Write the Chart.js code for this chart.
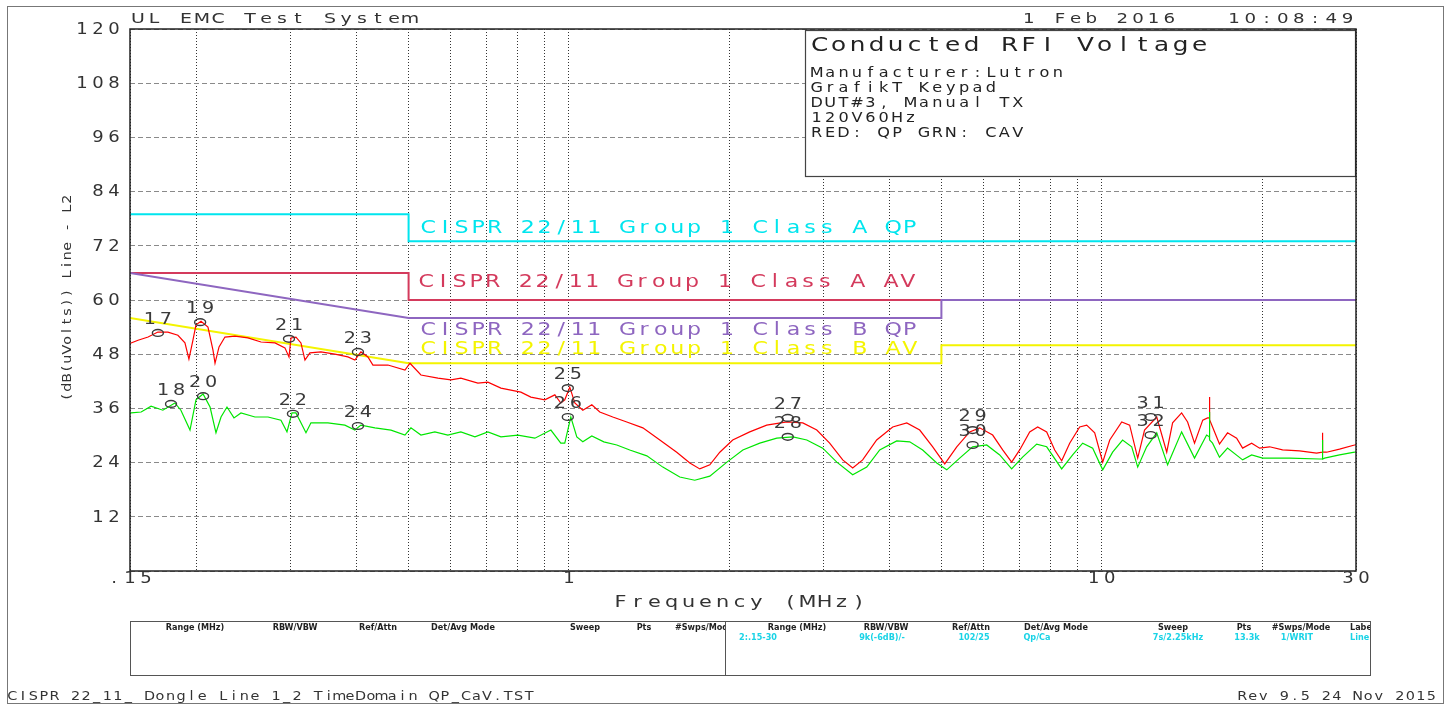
<!DOCTYPE html>
<html>
<head>
<meta charset="utf-8">
<script src="https://cdn.jsdelivr.net/npm/chart.js@4.4.1/dist/chart.umd.min.js"></script>
<style>
html,body{margin:0;padding:0;background:#fff;}
canvas{display:block;}
</style>
</head>
<body>
<canvas id="c" width="1450" height="707" style="width:1450px;height:707px"></canvas>
<script>
// ---------------- data ----------------
const xTickValues = [0.15,0.2,0.3,0.4,0.5,0.6,0.7,0.8,0.9,1,2,3,4,5,6,7,8,9,10,20,30];
const xTickLabels = [{v:0.15,t:".15"},{v:1,t:"1"},{v:10,t:"10"},{v:30,t:"30"}];
const yTickValues = [120,108,96,84,72,60,48,36,24,12];

const redFreq = [0.15,0.1507,0.1553,0.1622,0.1692,0.1767,0.1845,0.1902,0.1935,0.1969,
0.1995,0.2039,0.2101,0.2147,0.2166,0.2204,0.2261,0.2361,0.2497,0.2642,
0.2807,0.2930,0.2982,0.3008,0.3073,0.3140,0.3195,0.3264,0.3423,0.3636,
0.3846,0.3964,0.4069,0.4194,0.4286,0.4573,0.4922,0.5030,0.5274,0.5676,
0.6004,0.6267,0.6745,0.7044,0.7452,0.8122,0.8480,0.9008,0.9407,0.9652,
0.9820,1.0035,1.0255,1.0616,1.1037,1.1424,1.2084,1.2838,1.3760,1.4808,
1.593,1.686,1.760,1.838,1.919,2.029,2.184,2.350,2.564,2.747,
2.918,3.085,3.264,3.408,3.558,3.780,4.051,4.305,4.553,4.816,
5.073,5.343,5.650,5.899,6.240,6.516,6.774,7.013,7.323,7.580,
7.881,8.159,8.409,8.705,9.089,9.368,9.698,10.04,10.35,10.90,
11.28,11.68,12.03,12.68,13.24,13.58,14.12,14.49,14.93,15.47,
15.80,15.92,15.93,15.94,16.14,16.63,17.22,17.91,18.38,19.11,
19.78,20.65,21.84,23.51,25.30,25.95,25.96,25.97,26.42,27.94,
29.81,30];
const redLevel = [50.3,50.5,51.1,51.8,52.9,52.9,52.2,50.5,46.9,51.1,
54.5,55.3,54.0,48.9,46.0,49.6,51.8,52.0,51.6,50.7,
50.5,49.4,47.4,51.6,51.8,50.5,46.7,48.3,48.5,48.0,
47.4,46.7,48.5,47.4,45.6,45.6,44.5,46.0,43.4,42.7,
42.3,42.7,41.6,41.8,40.5,39.6,38.5,37.9,39.0,37.2,
37.9,40.7,37.2,35.6,36.8,35.2,34.1,33.0,31.7,29.0,
26.3,23.9,22.6,23.5,26.3,29.0,30.8,32.3,33.0,32.8,
31.2,28.3,24.6,22.8,24.6,29.0,31.9,32.8,31.2,27.5,
23.7,27.5,30.8,31.7,30.1,26.8,24.1,26.8,30.8,31.9,
30.8,26.8,24.4,28.3,31.9,32.3,30.6,24.1,29.0,33.0,
32.3,25.0,31.2,34.1,26.3,32.8,35.0,33.0,28.3,33.4,
33.9,33.9,38.5,33.5,31.9,28.1,30.6,29.4,27.2,28.3,
27.2,27.5,26.8,26.6,26.1,26.3,30.6,26.3,26.3,27.0,
27.9,28.0];

const greenFreq = [0.15,0.1507,0.1574,0.1643,0.1729,0.1821,0.1869,0.1944,0.1995,0.2057,
0.2120,0.2175,0.2223,0.2281,0.2351,0.2423,0.2574,0.2723,0.2880,0.2956,
0.3021,0.3073,0.3140,0.3209,0.3279,0.3528,0.3796,0.3964,0.4069,0.4323,
0.4634,0.4922,0.5051,0.5274,0.5602,0.5925,0.6267,0.6660,0.7044,0.7452,
0.8019,0.8630,0.9248,0.9652,0.9820,1.0080,1.0344,1.0616,1.1037,1.1624,
1.2296,1.3005,1.400,1.500,1.614,1.722,1.838,1.979,2.120,2.281,
2.455,2.631,2.795,2.994,3.182,3.408,3.621,3.830,4.122,4.360,
4.611,4.901,5.117,5.411,5.722,6.081,6.433,6.774,7.102,7.547,
7.881,8.409,8.817,9.207,9.615,10.04,10.48,10.94,11.38,11.68,
12.14,12.68,13.29,14.12,14.93,15.73,15.92,15.93,15.94,16.14,
16.63,17.22,18.38,19.11,20.04,22.52,25.63,25.95,25.96,25.97,
26.19,27.94,29.81,30];
const greenLevel = [34.9,35.0,35.2,36.5,35.6,37.2,35.6,31.2,37.9,39.2,
36.3,30.6,34.1,36.3,33.9,35.0,34.1,34.1,33.4,30.8,
35.0,35.0,32.8,30.6,32.8,32.8,32.3,31.2,32.3,31.7,
31.2,30.1,31.7,30.1,30.8,30.1,30.8,29.7,30.8,29.7,
30.1,29.4,31.2,28.3,28.3,34.1,29.7,28.6,29.9,28.6,
27.9,26.8,25.5,23.0,20.8,20.1,21.0,24.1,26.8,28.3,
29.4,29.7,29.0,27.2,24.1,21.3,23.0,26.8,28.8,28.6,
26.8,23.9,22.4,25.0,27.5,27.9,25.7,22.6,25.2,28.1,
27.5,22.6,25.7,28.3,27.2,22.4,26.3,29.0,27.5,23.0,
27.5,30.6,23.5,30.8,25.0,30.1,29.7,35.2,29.0,28.3,
25.2,27.2,24.6,25.7,25.0,25.0,24.8,24.8,29.0,24.8,
25.0,25.7,26.3,26.4];

// limit lines
const limAQPFreq = [0.15,0.5,0.5,30];
const limAQPLevel = [79,79,73,73];
const limAAVFreq = [0.15,0.5,0.5,30];
const limAAVLevel = [66,66,60,60];
const limBQPFreq = [0.15,0.5,5,5,30];
const limBQPLevel = [66,56,56,60,60];
const limBAVFreq = [0.15,0.5,5,5,30];
const limBAVLevel = [56,46,46,50,50];
const limitLabels = ["CISPR 22/11 Group 1 Class A QP","CISPR 22/11 Group 1 Class A AV","CISPR 22/11 Group 1 Class B QP","CISPR 22/11 Group 1 Class B AV"];

// markers
const markerLabel = ["17","18","19","20","21","22","23","24","25","26","27","28","29","30","31","32"];
const markerFreq = [0.1692,0.1791,0.2031,0.2057,0.2982,0.3033,0.4017,0.4017,0.995,0.995,2.574,2.574,5.722,5.722,12.35,12.35];
const markerLevel = [52.7,37.0,55.1,38.7,51.4,34.8,48.5,32.1,40.5,34.1,33.9,29.7,31.2,27.9,34.1,30.1];

const infoLines = ["Manufacturer:Lutron","GrafikT Keypad","DUT#3, Manual TX","120V60Hz","RED: QP GRN: CAV"];
const tableHeadL = [["Range (MHz)",195],["RBW/VBW",295],["Ref/Attn",378],["Det/Avg Mode",463],["Sweep",585],["Pts",644]];
const tableHeadR = [["Range (MHz)",797],["RBW/VBW",886],["Ref/Attn",971],["Det/Avg Mode",1056],["Sweep",1173],["Pts",1244],["#Swps/Mode",1301]];
const tableValR = [["2:.15-30",758],["9k(-6dB)/-",882],["102/25",974],["Qp/Ca",1037],["7s/2.25kHz",1178],["13.3k",1247],["1/WRIT",1297]];

// ---------------- helpers ----------------
const pts = (fs, ls) => fs.map((f, i) => ({x: f, y: ls[i]}));
const FONT = '"DejaVu Sans", sans-serif';
function mono(ctx, str, x, y, adv, size, color, sx) {
  sx = sx || 1.3;
  ctx.save();
  ctx.font = size + 'px ' + FONT;
  ctx.fillStyle = color;
  ctx.textAlign = 'center';
  ctx.textBaseline = 'middle';
  for (let i = 0; i < str.length; i++) {
    if (str[i] === ' ') continue;
    ctx.save();
    ctx.translate(x + adv * (i + 0.5), y);
    ctx.scale(sx, 1);
    ctx.fillText(str[i], 0, 0);
    ctx.restore();
  }
  ctx.restore();
}

const COL = {
  aqp: '#00e5ee', aav: '#d43a5c', bqp: '#8e66c0', bav: '#f4f400',
  red: '#ff0000', green: '#00e600', mark: '#3a3a3a'
};

const overlay = {
  id: 'overlay',
  afterDraw(chart) {
    const ctx = chart.ctx;
    const xs = chart.scales.x, ys = chart.scales.y;
    const a = chart.chartArea;

    // limit labels
    const lx = 420, ladv = 16.6;
    mono(ctx, limitLabels[0], lx, 229, ladv, 17, COL.aqp);
    mono(ctx, limitLabels[1], lx - 2, 283, ladv, 17, COL.aav);
    mono(ctx, limitLabels[2], lx, 331, ladv, 17, COL.bqp);
    mono(ctx, limitLabels[3], lx, 350, ladv, 17, COL.bav);

    // markers
    ctx.save();
    for (let i = 0; i < markerFreq.length; i++) {
      const px = xs.getPixelForValue(markerFreq[i]);
      const py = ys.getPixelForValue(markerLevel[i]);
      ctx.strokeStyle = COL.mark;
      ctx.lineWidth = 1.4;
      ctx.beginPath();
      ctx.ellipse(px, py, 5.5, 3.4, 0, 0, Math.PI * 2);
      ctx.stroke();
      const lab = markerLabel[i];
      mono(ctx, lab, px - lab.length * 16 / 2, py - 13, 16, 16, COL.mark, 1.2);
    }
    ctx.restore();

    // info box
    ctx.save();
    ctx.fillStyle = '#fff';
    ctx.fillRect(805, 30, 551, 147);
    ctx.strokeStyle = '#444';
    ctx.lineWidth = 1.2;
    ctx.strokeRect(805.5, 30.5, 550, 146);
    ctx.restore();
    mono(ctx, "Conducted RFI Voltage", 810, 46, 19, 19, '#222', 1.3);
    infoLines.forEach((t, i) => mono(ctx, t, 810, 73 + i * 15, 13.4, 14, '#222', 1.15));

    // plot frame
    ctx.save();
    ctx.strokeStyle = '#222';
    ctx.lineWidth = 1.5;
    ctx.strokeRect(a.left, a.top, a.right - a.left, a.bottom - a.top);
    ctx.restore();

    // y tick labels
    yTickValues.forEach(v => {
      const py = ys.getPixelForValue(v);
      const s = String(v);
      mono(ctx, s, 122 - s.length * 16, py + 1, 16, 15, '#333', 1.2);
    });
    // x tick labels
    xTickLabels.forEach(o => {
      const px = xs.getPixelForValue(o.v);
      mono(ctx, o.t, px - o.t.length * 16 / 2, 579, 16, 15, '#333', 1.2);
    });
    // axis titles
    mono(ctx, "Frequency (MHz)", 612, 603, 17, 16, '#333', 1.3);
    ctx.save();
    ctx.translate(68, 298);
    ctx.rotate(-Math.PI / 2);
    const yt = "(dB(uVolts)) Line - L2";
    mono(ctx, yt, -yt.length * 9.4 / 2, 0, 9.4, 13, '#333', 1.1);
    ctx.restore();

    // header
    mono(ctx, "UL EMC Test System", 130, 19, 16, 14, '#333', 1.35);
    mono(ctx, "1 Feb 2016", 1021, 19, 15.6, 14, '#333', 1.3);
    mono(ctx, "10:08:49", 1226, 19, 16.2, 14, '#333', 1.3);

    // table
    ctx.save();
    ctx.strokeStyle = '#555';
    ctx.lineWidth = 1;
    ctx.strokeRect(130.5, 621.5, 595, 54);
    ctx.strokeRect(725.5, 621.5, 645, 54);
    ctx.font = 'bold 9px "DejaVu Sans Condensed", "DejaVu Sans", sans-serif';
    ctx.textBaseline = 'middle';
    ctx.textAlign = 'center';
    ctx.fillStyle = '#222';
    tableHeadL.forEach(h => ctx.fillText(h[0], h[1], 628));
    tableHeadR.forEach(h => ctx.fillText(h[0], h[1], 628));
    ctx.textAlign = 'left';
    ctx.save();
    ctx.beginPath(); ctx.rect(130, 621, 595, 54); ctx.clip();
    ctx.fillText("#Swps/Mode", 675, 628);
    ctx.restore();
    ctx.save();
    ctx.beginPath(); ctx.rect(725, 621, 645, 54); ctx.clip();
    ctx.fillText("Label", 1350, 628);
    ctx.fillStyle = '#19d3e6';
    ctx.fillText("Line", 1350, 638);
    ctx.restore();
    ctx.fillStyle = '#19d3e6';
    ctx.textAlign = 'center';
    tableValR.forEach(h => ctx.fillText(h[0], h[1], 638));
    ctx.restore();

    // footer
    mono(ctx, "CISPR 22_11_ Dongle Line 1_2 TimeDomain QP_CaV.TST", 7, 697, 10.55, 12, '#333', 1.2);
    mono(ctx, "Rev 9.5 24 Nov 2015", 1237, 697, 10.5, 12, '#333', 1.2);

    // outer frame
    ctx.save();
    ctx.strokeStyle = '#777';
    ctx.lineWidth = 1;
    ctx.strokeRect(7.5, 6.5, 1436, 697);
    ctx.restore();
  }
};

const line = (data, color, width, order) => ({
  data, borderColor: color, backgroundColor: color, borderWidth: width,
  showLine: true, pointRadius: 0, tension: 0, order, fill: false
});

new Chart(document.getElementById('c'), {
  type: 'scatter',
  data: {
    datasets: [
      line(pts(greenFreq, greenLevel), COL.green, 1.2, 0),
      line(pts(redFreq, redLevel), COL.red, 1.2, 1),
      line(pts(limBQPFreq, limBQPLevel), COL.bqp, 2, 2),
      line(pts(limBAVFreq, limBAVLevel), COL.bav, 2, 3),
      line(pts(limAAVFreq, limAAVLevel), COL.aav, 2, 4),
      line(pts(limAQPFreq, limAQPLevel), COL.aqp, 2, 5)
    ]
  },
  options: {
    responsive: false,
    animation: false,
    devicePixelRatio: 1,
    layout: {padding: {left: 130, top: 29, right: 94, bottom: 136}},
    plugins: {legend: {display: false}, tooltip: {enabled: false}},
    scales: {
      x: {
        type: 'logarithmic', min: 0.15, max: 30,
        afterBuildTicks: s => { s.ticks = xTickValues.map(v => ({value: v})); },
        ticks: {display: false},
        grid: {color: '#333', lineWidth: 1, drawTicks: false},
        border: {display: false, dash: [1, 2]}
      },
      y: {
        min: 0, max: 120,
        afterBuildTicks: s => { s.ticks = [0,12,24,36,48,60,72,84,96,108,120].map(v => ({value: v})); },
        ticks: {display: false},
        grid: {color: '#8a8a8a', lineWidth: 1, drawTicks: false},
        border: {display: false, dash: [5, 3]}
      }
    }
  },
  plugins: [overlay]
});
</script>
</body>
</html>
